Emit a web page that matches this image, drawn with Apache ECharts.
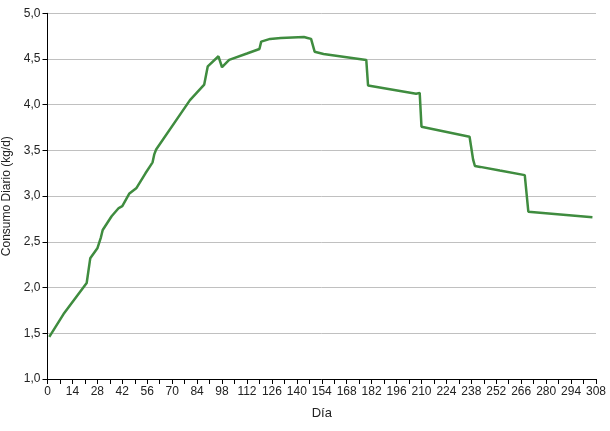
<!DOCTYPE html>
<html>
<head>
<meta charset="utf-8">
<script src="https://cdn.jsdelivr.net/npm/echarts@6/dist/echarts.min.js"></script>
<style>html,body{margin:0;padding:0;background:#fff;}#c{width:610px;height:431px;}</style>
</head>
<body>
<div id="c"></div>
<script>
const days = [1, 9, 22, 23, 24, 28, 30, 31, 36, 40, 42, 46, 50, 55, 58, 59, 60, 61, 80, 88, 90, 96, 98, 102, 112, 119, 120, 125, 131, 144, 146, 148, 150, 155, 179, 180, 207, 209, 210, 237, 238, 239, 240, 243, 254, 268, 269, 270, 306];
const consumo = [1.46, 1.71, 2.05, 2.07, 2.32, 2.43, 2.55, 2.63, 2.78, 2.87, 2.89, 3.03, 3.09, 3.25, 3.34, 3.37, 3.46, 3.51, 4.05, 4.22, 4.42, 4.53, 4.41, 4.49, 4.56, 4.61, 4.69, 4.72, 4.73, 4.74, 4.73, 4.72, 4.58, 4.555, 4.49, 4.21, 4.12, 4.13, 3.76, 3.65, 3.67, 3.40, 3.33, 3.32, 3.28, 3.23, 3.24, 2.83, 2.77];
const xName = 'Día';
const yName = 'Consumo Diario (kg/d)';

const chart = echarts.init(document.getElementById('c'), null, {renderer: 'canvas'});
const font = 'Liberation Sans, Arial, sans-serif';
chart.setOption({
  animation: false,
  backgroundColor: '#fff',
  grid: {left: 47.5, right: 14, top: 13.3, bottom: 52, containLabel: false, outerBoundsMode: 'none'},
  xAxis: {
    type: 'value', min: 0, max: 308, interval: 14,
    name: xName, nameLocation: 'middle', nameGap: 28,
    nameTextStyle: {color: '#222', fontSize: 13, fontFamily: font},
    axisLine: {show: true, onZero: false, lineStyle: {color: '#000', width: 1}},
    axisTick: {show: true, length: 5, lineStyle: {color: '#000'}},
    minorTick: {show: true, splitNumber: 2, length: 5, lineStyle: {color: '#000'}},
    axisLabel: {color: '#222', fontSize: 12, fontFamily: font, margin: 7},
    splitLine: {show: false}
  },
  yAxis: {
    type: 'value', min: 1, max: 5, interval: 0.5,
    name: yName, nameLocation: 'middle', nameGap: 32, nameRotate: 90,
    nameTextStyle: {color: '#222', fontSize: 12, fontFamily: font},
    axisLine: {show: true, lineStyle: {color: '#000', width: 1}},
    axisTick: {show: true, length: 5, lineStyle: {color: '#000'}},
    axisLabel: {color: '#222', fontSize: 12, fontFamily: font, margin: 7,
      formatter: v => v.toFixed(1).replace('.', ',')},
    splitLine: {show: true, lineStyle: {color: '#c0c0c0', width: 1}}
  },
  series: [{
    type: 'line',
    data: days.map((d, i) => [d, consumo[i]]),
    showSymbol: false,
    lineStyle: {color: '#3f8c3f', width: 2.5},
    itemStyle: {color: '#3f8c3f'}
  }]
});
</script>
</body>
</html>
